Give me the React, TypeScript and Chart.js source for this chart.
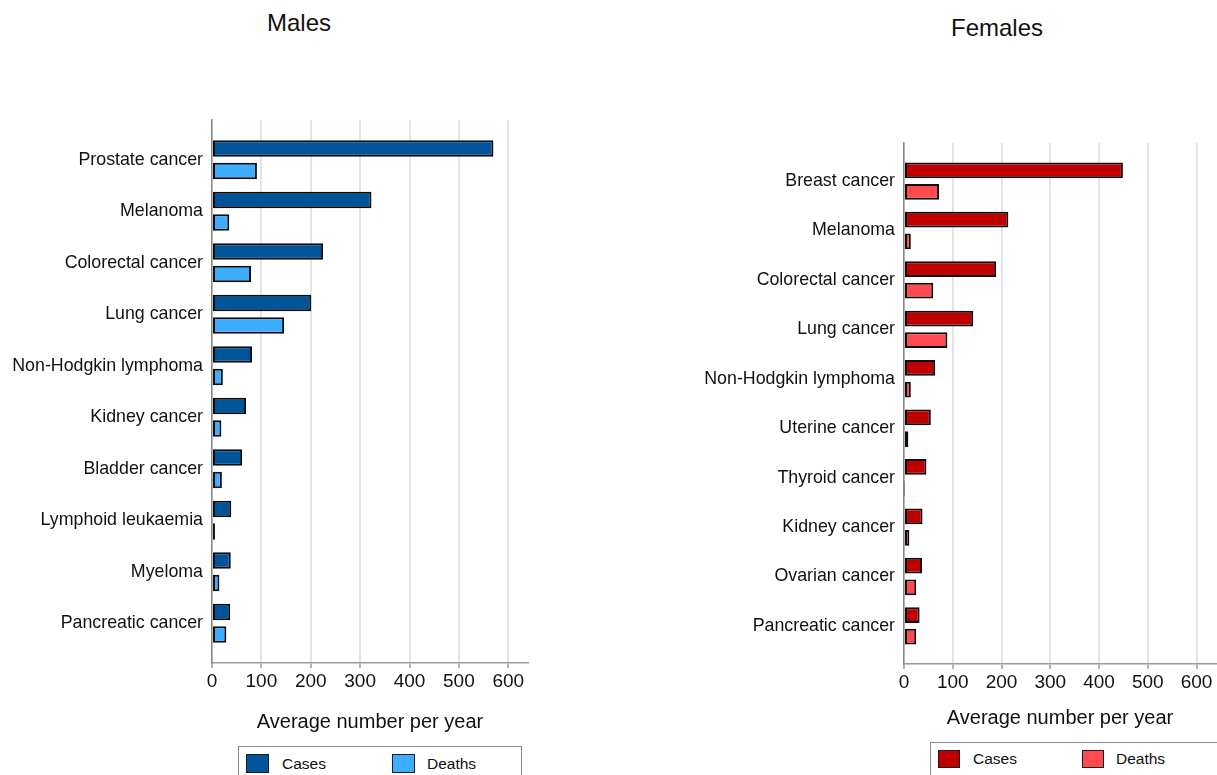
import React, { useEffect, useRef } from "react";
import { Chart, registerables } from "chart.js";

Chart.register(...registerables);

// ---------- data ----------
const MALE_CATEGORIES = [
  "Prostate cancer",
  "Melanoma",
  "Colorectal cancer",
  "Lung cancer",
  "Non-Hodgkin lymphoma",
  "Kidney cancer",
  "Bladder cancer",
  "Lymphoid leukaemia",
  "Myeloma",
  "Pancreatic cancer",
];
const MALE_CASES = [570, 323, 225, 201, 81, 69, 61, 39, 38, 37];
const MALE_DEATHS = [91, 35, 79, 146, 22, 19, 20, 6, 15, 29];

const FEMALE_CATEGORIES = [
  "Breast cancer",
  "Melanoma",
  "Colorectal cancer",
  "Lung cancer",
  "Non-Hodgkin lymphoma",
  "Uterine cancer",
  "Thyroid cancer",
  "Kidney cancer",
  "Ovarian cancer",
  "Pancreatic cancer",
];
const FEMALE_CASES = [449, 214, 189, 142, 64, 55, 46, 38, 37, 32];
const FEMALE_DEATHS = [72, 14, 60, 89, 14, 9, 1, 11, 25, 25];

const X_TICKS = [0, 100, 200, 300, 400, 500, 600];
const X_MAX = 640;
const SERIES_LABELS = ["Cases", "Deaths"];
const AXIS_TITLE = "Average number per year";
const PANEL_TITLES = ["Males", "Females"];

// ---------- styles ----------
const FONT = "'Liberation Sans', Arial, Helvetica, sans-serif";
const MALE_COLORS = ["#00549A", "#3DAEFF"];
const FEMALE_COLORS = ["#C00000", "#FF4B4F"];
const TEXT = "#111111";
const BAR_BORDER = "#0d0d0d";

type PanelLayout = {
  left: number;
  width: number;
  yAxisWidth: number;
  padTop: number;
  padBottom: number;
  padRight: number;
  xAxisHeight: number;
};

type PanelProps = {
  categories: string[];
  cases: number[];
  deaths: number[];
  colors: string[];
  layout: PanelLayout;
};

function Panel({ categories, cases, deaths, colors, layout }: PanelProps) {
  const ref = useRef<HTMLCanvasElement | null>(null);

  useEffect(() => {
    if (!ref.current) return;
    const n = categories.length;
    const mk = (vals: number[]) => vals.map((v, i) => ({ x: v, y: i }));
    const chart = new Chart(ref.current, {
      type: "bar",
      data: {
        datasets: [
          {
            label: SERIES_LABELS[0],
            data: mk(cases),
            backgroundColor: colors[0],
            borderColor: BAR_BORDER,
            borderWidth: 2,
            borderSkipped: false,
            categoryPercentage: 0.874,
            barPercentage: 0.73,
          },
          {
            label: SERIES_LABELS[1],
            data: mk(deaths),
            backgroundColor: colors[1],
            borderColor: BAR_BORDER,
            borderWidth: 2,
            borderSkipped: false,
            categoryPercentage: 0.874,
            barPercentage: 0.73,
          },
        ],
      } as any,
      options: {
        indexAxis: "y",
        responsive: false,
        maintainAspectRatio: false,
        animation: false,
        layout: {
          padding: {
            top: layout.padTop,
            bottom: layout.padBottom,
            left: 0,
            right: layout.padRight,
          },
        },
        plugins: {
          legend: { display: false },
          title: { display: false },
          tooltip: { enabled: false },
        },
        scales: {
          x: {
            type: "linear",
            position: "bottom",
            min: 0,
            max: X_MAX,
            offset: false,
            afterBuildTicks: (s: any) => {
              s.ticks = X_TICKS.map((v) => ({ value: v }));
            },
            afterFit: (s: any) => {
              s.height = layout.xAxisHeight;
            },
            grid: {
              color: "#e4e4e4",
              lineWidth: 2,
              tickColor: "#9a9a9a",
              tickLength: 5,
              tickWidth: 1.5,
              offset: false,
            },
            border: { display: true, color: "#9a9a9a", width: 1.5 },
            ticks: {
              color: TEXT,
              font: { family: FONT, size: 19 },
              padding: 2,
              maxRotation: 0,
              autoSkip: false,
            },
            title: {
              display: true,
              text: AXIS_TITLE,
              color: TEXT,
              font: { family: FONT, size: 20 },
              padding: 0,
            },
          },
          y: {
            type: "linear",
            reverse: true,
            offset: false,
            min: -0.77,
            max: n - 1 + 0.77,
            afterBuildTicks: (s: any) => {
              s.ticks = categories.map((_, i) => ({ value: i }));
            },
            afterFit: (s: any) => {
              s.width = layout.yAxisWidth;
            },
            grid: { display: false, drawTicks: false, offset: false },
            border: { display: true, color: "#888888", width: 1.5 },
            ticks: {
              callback: (v: any) => categories[Math.round(Number(v))] ?? "",
              color: TEXT,
              font: { family: FONT, size: 17.8 },
              padding: 9,
              autoSkip: false,
            },
          },
        },
      } as any,
    });
    return () => chart.destroy();
  }, []);

  return (
    <canvas
      ref={ref}
      width={layout.width}
      height={775}
      style={{
        position: "absolute",
        left: layout.left,
        top: 0,
        width: layout.width,
        height: 775,
        display: "block",
      }}
    />
  );
}

type LegendProps = {
  box: { left: number; top: number; width: number };
  swatches: { left: number; top: number; w: number; h: number }[];
  texts: { left: number; top: number }[];
  colors: string[];
};

function Legend({ box, swatches, texts, colors }: LegendProps) {
  return (
    <>
      <div
        style={{
          position: "absolute",
          left: box.left,
          top: box.top,
          width: box.width,
          height: 60,
          border: "1px solid #8a8a8a",
          boxSizing: "border-box",
          background: "#fff",
        }}
      />
      {swatches.map((s, i) => (
        <div
          key={"s" + i}
          style={{
            position: "absolute",
            left: s.left,
            top: s.top,
            width: s.w,
            height: s.h,
            background: colors[i],
            border: "1px solid #1c1c1c",
            boxSizing: "border-box",
          }}
        />
      ))}
      {texts.map((t, i) => (
        <div
          key={"t" + i}
          style={{
            position: "absolute",
            left: t.left,
            top: t.top,
            fontFamily: FONT,
            fontSize: 15.5,
            lineHeight: "18px",
            color: TEXT,
            whiteSpace: "nowrap",
          }}
        >
          {SERIES_LABELS[i]}
        </div>
      ))}
    </>
  );
}

function Title({ text, cx, top }: { text: string; cx: number; top: number }) {
  return (
    <div
      style={{
        position: "absolute",
        left: cx - 100,
        top,
        width: 200,
        textAlign: "center",
        fontFamily: FONT,
        fontSize: 24,
        lineHeight: "28px",
        color: TEXT,
      }}
    >
      {text}
    </div>
  );
}

export default function App() {
  return (
    <div
      style={{
        position: "fixed",
        left: 0,
        top: 0,
        width: 1217,
        height: 775,
        overflow: "hidden",
        background: "#ffffff",
      }}
    >
      <Title text={PANEL_TITLES[0]} cx={299} top={9} />
      <Title text={PANEL_TITLES[1]} cx={997} top={14} />
      <Panel
        categories={MALE_CATEGORIES}
        cases={MALE_CASES}
        deaths={MALE_DEATHS}
        colors={MALE_COLORS}
        layout={{
          left: 0,
          width: 560,
          yAxisWidth: 212,
          padTop: 120,
          padBottom: 41,
          padRight: 32,
          xAxisHeight: 71,
        }}
      />
      <Panel
        categories={FEMALE_CATEGORIES}
        cases={FEMALE_CASES}
        deaths={FEMALE_DEATHS}
        colors={FEMALE_COLORS}
        layout={{
          left: 600,
          width: 617,
          yAxisWidth: 304,
          padTop: 143,
          padBottom: 44.5,
          padRight: 1,
          xAxisHeight: 66.5,
        }}
      />
      <Legend
        box={{ left: 238, top: 746, width: 284 }}
        swatches={[
          { left: 246, top: 754, w: 23, h: 19 },
          { left: 392, top: 754, w: 23, h: 19 },
        ]}
        texts={[
          { left: 282, top: 755 },
          { left: 427, top: 755 },
        ]}
        colors={MALE_COLORS}
      />
      <Legend
        box={{ left: 930, top: 742, width: 292 }}
        swatches={[
          { left: 938, top: 750, w: 22, h: 18 },
          { left: 1082, top: 750, w: 22, h: 18 },
        ]}
        texts={[
          { left: 973, top: 750 },
          { left: 1116, top: 750 },
        ]}
        colors={FEMALE_COLORS}
      />
    </div>
  );
}
